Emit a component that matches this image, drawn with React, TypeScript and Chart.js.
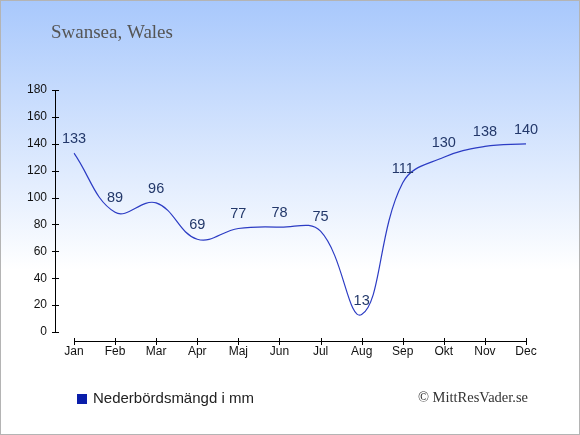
import React, { useEffect, useRef } from "react";
import { Chart, registerables } from "chart.js";

Chart.register(...registerables);

const months = ["Jan", "Feb", "Mar", "Apr", "Maj", "Jun", "Jul", "Aug", "Sep", "Okt", "Nov", "Dec"];
const precipitation = [133, 89, 96, 69, 77, 78, 75, 13, 111, 130, 138, 140];
const yTickValues = [0, 20, 40, 60, 80, 100, 120, 140, 160, 180];
const titleText = "Swansea, Wales";
const seriesLabel = "Nederbördsmängd i mm";
const creditText = "© MittResVader.se";

const W = 580;
const H = 435;

const decorPlugin = {
  id: "decor",
  beforeDraw(chart: any) {
    const ctx = chart.ctx as CanvasRenderingContext2D;
    ctx.save();
    const g = ctx.createLinearGradient(0, 0, 0, 270);
    g.addColorStop(0, "#a8c8fc");
    g.addColorStop(1, "#ffffff");
    ctx.fillStyle = g;
    ctx.fillRect(0, 0, W, H);
    ctx.strokeStyle = "#b4b4b4";
    ctx.lineWidth = 1;
    ctx.strokeRect(0.5, 0.5, W - 1, H - 1);
    ctx.restore();
  },
  afterDraw(chart: any) {
    const ctx = chart.ctx as CanvasRenderingContext2D;
    const xs = chart.scales.x;
    const ys = chart.scales.y;
    ctx.save();
    // Y axis line and ticks
    ctx.strokeStyle = "#000";
    ctx.lineWidth = 1;
    const yAxisX = 55.5;
    const yTop = ys.getPixelForValue(yTickValues[yTickValues.length - 1]);
    const yBot = ys.getPixelForValue(yTickValues[0]);
    ctx.beginPath();
    ctx.moveTo(yAxisX, Math.round(yTop));
    ctx.lineTo(yAxisX, Math.round(yBot) + 1);
    yTickValues.forEach((v) => {
      const py = Math.round(ys.getPixelForValue(v)) + 0.5;
      ctx.moveTo(52, py);
      ctx.lineTo(59, py);
    });
    // X axis line and ticks
    const xAxisY = 341.5;
    const xl = xs.getPixelForValue(0);
    const xr = xs.getPixelForValue(months.length - 1);
    ctx.moveTo(Math.round(xl), xAxisY);
    ctx.lineTo(Math.round(xr) + 1, xAxisY);
    months.forEach((_, i) => {
      const px = Math.round(xs.getPixelForValue(i)) + 0.5;
      ctx.moveTo(px, 338);
      ctx.lineTo(px, 345);
    });
    ctx.stroke();

    // Data labels
    ctx.font = "14.5px 'Liberation Sans', Arial, sans-serif";
    ctx.fillStyle = "#23386a";
    ctx.textAlign = "center";
    ctx.textBaseline = "middle";
    const meta = chart.getDatasetMeta(0);
    meta.data.forEach((pt: any, i: number) => {
      ctx.fillText(String(precipitation[i]), pt.x, pt.y - 14);
    });

    // Title
    ctx.font = "19px 'Liberation Serif', 'Times New Roman', serif";
    ctx.fillStyle = "#555555";
    ctx.textAlign = "left";
    ctx.textBaseline = "alphabetic";
    ctx.fillText(titleText, 51, 38);

    // Legend
    ctx.fillStyle = "#0a1eaa";
    ctx.fillRect(77, 394, 10, 10);
    ctx.font = "15px 'Liberation Sans', Arial, sans-serif";
    ctx.fillStyle = "#222222";
    ctx.textBaseline = "middle";
    ctx.fillText(seriesLabel, 93, 399);

    // Credit
    ctx.font = "14.5px 'Liberation Serif', 'Times New Roman', serif";
    ctx.fillStyle = "#333333";
    ctx.textAlign = "right";
    ctx.fillText(creditText, 528, 398);
    ctx.restore();
  },
};

export default function App() {
  const ref = useRef<HTMLCanvasElement | null>(null);
  useEffect(() => {
    if (!ref.current) return;
    const chart = new Chart(ref.current, {
      type: "line",
      data: {
        labels: months,
        datasets: [
          {
            label: seriesLabel,
            data: precipitation,
            borderColor: "#2c3cc4",
            borderWidth: 1.2,
            pointRadius: 0,
            tension: 0.4,
            fill: false,
          },
        ],
      },
      options: {
        animation: false,
        responsive: false,
        devicePixelRatio: 1,
        layout: { padding: { left: 0, top: 90, right: 54, bottom: 0 } },
        plugins: {
          legend: { display: false },
          tooltip: { enabled: false },
          title: { display: false },
        },
        scales: {
          x: {
            type: "category",
            offset: false,
            grid: { display: false, drawTicks: false },
            border: { display: false },
            ticks: {
              padding: 12,
              color: "#111",
              font: { family: "'Liberation Sans', Arial, sans-serif", size: 12 },
              maxRotation: 0,
              autoSkip: false,
            },
            afterFit: (s: any) => {
              s.height = 103;
            },
          },
          y: {
            min: 0,
            max: 180,
            grid: { display: false, drawTicks: false },
            border: { display: false },
            ticks: {
              stepSize: 20,
              padding: 27,
              color: "#111",
              font: { family: "'Liberation Sans', Arial, sans-serif", size: 12 },
            },
            afterFit: (s: any) => {
              s.width = 74;
            },
          },
        },
      },
      plugins: [decorPlugin],
    });
    return () => chart.destroy();
  }, []);
  return (
    <div style={{ position: "absolute", left: 0, top: 0, width: W, height: H }}>
      <canvas ref={ref} width={W} height={H} style={{ width: W, height: H, display: "block" }} />
    </div>
  );
}
